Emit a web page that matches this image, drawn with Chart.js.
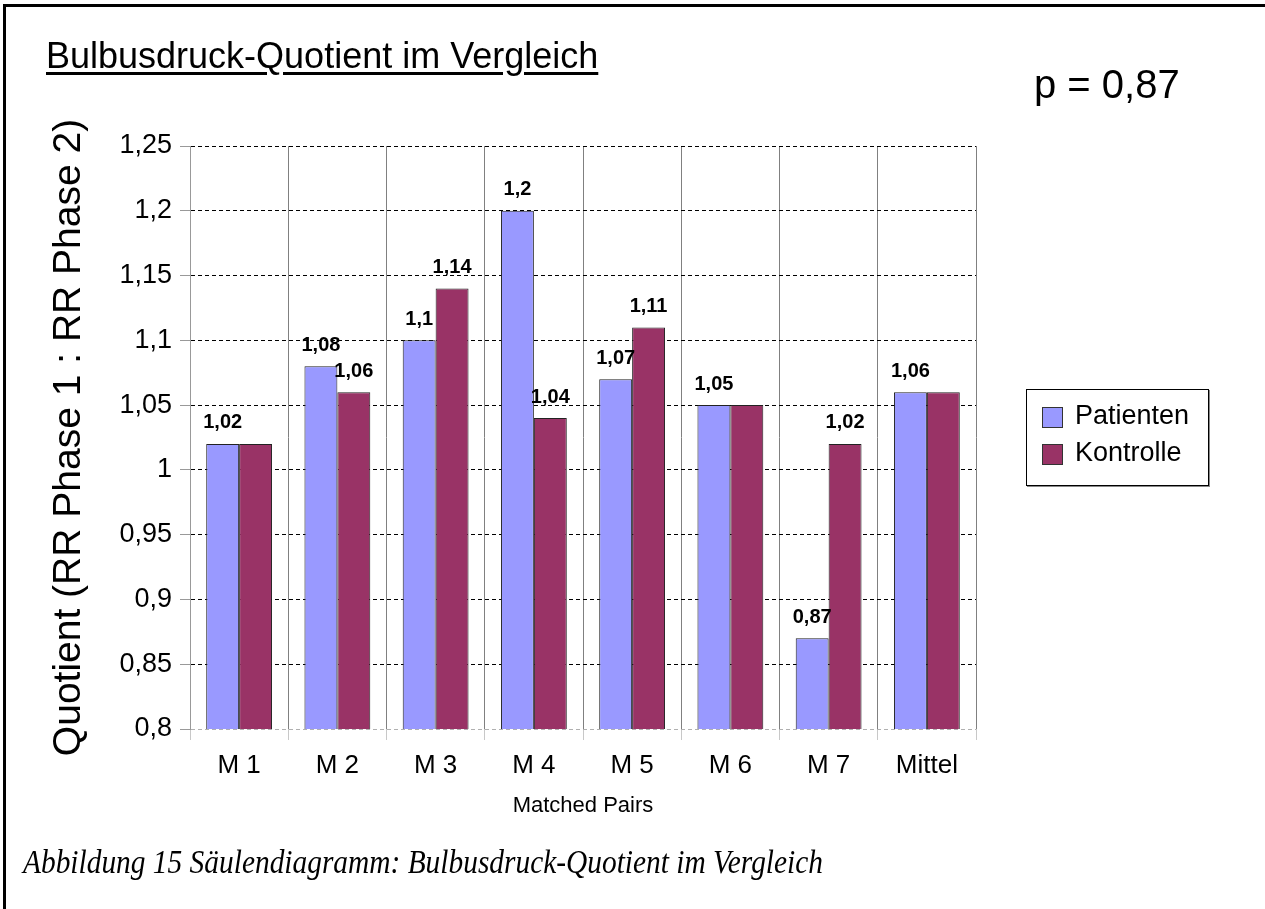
<!DOCTYPE html>
<html lang="de">
<head>
<meta charset="utf-8">
<title>Bulbusdruck-Quotient im Vergleich</title>
<script src="https://cdn.jsdelivr.net/npm/chart.js@4.4.0/dist/chart.umd.min.js"></script>
<style>
  html, body { margin: 0; padding: 0; background: #fff; }
  body {
    width: 1265px; height: 909px; position: relative; overflow: hidden;
    font-family: "Liberation Sans", Arial, sans-serif; color: #000;
  }
  #frame {
    position: absolute; left: 3px; top: 4px; right: 0; bottom: 0;
    border-left: 3px solid #000; border-top: 3px solid #000;
  }
  #chart { position: absolute; left: 0; top: 0; }
  #title {
    position: absolute; left: 46px; top: 35px; font-size: 36px;
    text-decoration: underline; text-underline-offset: 4px; white-space: nowrap;
  }
  #pvalue { position: absolute; left: 1034px; top: 62px; font-size: 40px; white-space: nowrap; }
  #legend {
    position: absolute; left: 1026px; top: 389px; width: 181px; height: 95px;
    border: 1px solid #000; box-shadow: 1px 1px 0 #888; background: #fff;
  }
  .item { position: absolute; left: 15px; height: 22px; font-size: 27px; white-space: nowrap; }
  .item span.sw {
    position: absolute; left: 0; top: 0; width: 19px; height: 19px; border: 1px solid #333;
  }
  .item span.tx { position: absolute; left: 33px; top: -7px; }
  #caption {
    position: absolute; left: 23px; top: 844px; font-family: "Liberation Serif", "Times New Roman", serif;
    font-style: italic; font-size: 33px; white-space: nowrap; transform-origin: 0 0;
  }
</style>
</head>
<body>
<div id="frame"></div>
<canvas id="chart" width="1265" height="909"></canvas>
<div id="title">Bulbusdruck-Quotient im Vergleich</div>
<div id="pvalue">p = 0,87</div>
<div id="legend"></div>
<div id="caption">Abbildung 15 Säulendiagramm: Bulbusdruck-Quotient im Vergleich</div>

<script>
const categories = ["M 1", "M 2", "M 3", "M 4", "M 5", "M 6", "M 7", "Mittel"];
const patienten = [1.02, 1.08, 1.10, 1.20, 1.07, 1.05, 0.87, 1.06];
const kontrolle = [1.02, 1.06, 1.14, 1.04, 1.11, 1.05, 1.02, 1.06];
const seriesNames = ["Patienten", "Kontrolle"];
const seriesColors = ["#9999ff", "#993366"];

const FONT = "'Liberation Sans', Arial, sans-serif";

function formatNum(v) {
    return String(Number(v.toFixed(2))).replace(".", ",");
}

// value labels above the bars; Kontrolle label is left out where it equals Patienten
const barLabels = {
    id: "barLabels",
    afterDatasetsDraw(chart) {
        const ctx = chart.ctx;
        ctx.save();
        ctx.font = "bold 20px " + FONT;
        ctx.fillStyle = "#000";
        ctx.textAlign = "center";
        ctx.textBaseline = "middle";
        chart.data.datasets.forEach((ds, di) => {
            const meta = chart.getDatasetMeta(di);
            meta.data.forEach((bar, i) => {
                if (di === 1 && ds.data[i] === patienten[i]) return;
                ctx.fillText(formatNum(ds.data[i]), bar.x, bar.y - 21);
            });
        });
        ctx.restore();
    }
};

Chart.defaults.font.family = FONT;
Chart.defaults.color = "#000";

new Chart(document.getElementById("chart"), {
    type: "bar",
    data: {
        labels: categories,
        datasets: [
            {
                label: seriesNames[0],
                data: patienten,
                backgroundColor: seriesColors[0],
                borderColor: "#222",
                borderWidth: 1
            },
            {
                label: seriesNames[1],
                data: kontrolle,
                backgroundColor: seriesColors[1],
                borderColor: "#222",
                borderWidth: 1
            }
        ]
    },
    options: {
        responsive: false,
        animation: false,
        layout: { padding: { left: 46, top: 146, right: 289, bottom: 90 } },
        datasets: {
            bar: { categoryPercentage: 0.67, barPercentage: 1.0 }
        },
        plugins: {
            legend: { display: false },
            tooltip: { enabled: false }
        },
        scales: {
            x: {
                grid: {
                    color: "#808080",
                    tickColor: "#c8c8c8",
                    tickLength: 11
                },
                border: { display: false },
                ticks: { font: { size: 26 }, padding: 10, maxRotation: 0 },
                title: {
                    display: true,
                    text: "Matched Pairs",
                    font: { size: 22 },
                    padding: 0
                },
                afterFit(scale) { scale.height = 90; }
            },
            y: {
                min: 0.8,
                max: 1.25,
                grid: {
                    color: (c) => (c.tick && c.tick.value <= 0.8 ? "#b0b0b0" : "#000"),
                    tickColor: "#999",
                    tickLength: 10,
                    tickBorderDash: []
                },
                border: { display: true, color: "#999", width: 1, dash: [4, 3] },
                ticks: {
                    stepSize: 0.05,
                    font: { size: 27 },
                    padding: 8,
                    callback: (v) => formatNum(v)
                },
                title: {
                    display: true,
                    text: "Quotient (RR Phase 1 : RR Phase 2)",
                    font: { size: 39 },
                    padding: 0
                },
                afterFit(scale) { scale.width = 144; }
            }
        }
    },
    plugins: [barLabels]
});

// legend box built from the series arrays
const legendEl = document.getElementById("legend");
seriesNames.forEach((name, i) => {
    const item = document.createElement("div");
    item.className = "item";
    item.style.top = (17 + i * 37) + "px";
    const sw = document.createElement("span");
    sw.className = "sw";
    sw.style.background = seriesColors[i];
    const tx = document.createElement("span");
    tx.className = "tx";
    tx.textContent = name;
    item.appendChild(sw);
    item.appendChild(tx);
    legendEl.appendChild(item);
});

// the caption in the original is set in a narrow italic serif
const cap = document.getElementById("caption");
const w = cap.getBoundingClientRect().width;
cap.style.transform = "scaleX(" + (800 / w) + ")";
</script>
</body>
</html>
